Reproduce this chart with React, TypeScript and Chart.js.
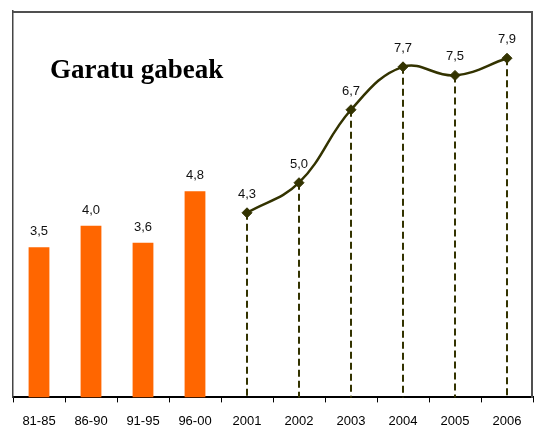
import React, { useEffect, useRef } from "react";
import { Chart, registerables } from "chart.js";
Chart.register(...registerables);

const categories = ["81-85", "86-90", "91-95", "96-00", "2001", "2002", "2003", "2004", "2005", "2006"];
const barValues: (number | null)[] = [3.5, 4.0, 3.6, 4.8, null, null, null, null, null, null];
const lineValues: (number | null)[] = [null, null, null, null, 4.3, 5.0, 6.7, 7.7, 7.5, 7.9];
const titleText = "Garatu gabeak";
const yMin = 0;
const yMax = 9;

const ORANGE = "#FF6600";
const OLIVE = "#333300";

const fmt = (v: number) => v.toFixed(1).replace(".", ",");

const framePlugin = {
  id: "plotFrame",
  afterDraw(chart: any) {
    const ctx = chart.ctx;
    const a = chart.chartArea;
    ctx.save();
    ctx.setLineDash([]);
    ctx.globalAlpha = 1;
    ctx.fillStyle = "#505050";
    ctx.fillRect(Math.floor(a.left), Math.floor(a.top), Math.ceil(a.right - a.left), 2);
    ctx.fillRect(Math.ceil(a.right) - 2, Math.floor(a.top), 2, Math.ceil(a.bottom - a.top));
    ctx.font = "bold 27px 'Liberation Serif', serif";
    ctx.fillStyle = "#000";
    ctx.textBaseline = "alphabetic";
    ctx.textAlign = "left";
    ctx.fillText(titleText, 50, 78);
    ctx.restore();
  },
};

const dropLinePlugin = {
  id: "dropLines",
  beforeDatasetsDraw(chart: any) {
    const { ctx, chartArea } = chart;
    const meta = chart.getDatasetMeta(1);
    ctx.save();
    ctx.strokeStyle = OLIVE;
    ctx.lineWidth = 2;
    ctx.setLineDash([7, 4]);
    meta.data.forEach((pt: any, i: number) => {
      if (lineValues[i] == null) return;
      const x = Math.round(pt.x);
      ctx.beginPath();
      ctx.moveTo(x, pt.y);
      ctx.lineTo(x, chartArea.bottom);
      ctx.stroke();
    });
    ctx.restore();
  },
};

const labelPlugin = {
  id: "valueLabels",
  afterDatasetsDraw(chart: any) {
    const { ctx } = chart;
    ctx.save();
    ctx.font = "13px 'Liberation Sans', Arial, sans-serif";
    ctx.fillStyle = "#111";
    ctx.textAlign = "center";
    ctx.textBaseline = "alphabetic";
    chart.getDatasetMeta(0).data.forEach((bar: any, i: number) => {
      const v = barValues[i];
      if (v == null) return;
      ctx.fillText(fmt(v), bar.x, bar.y - 12);
    });
    chart.getDatasetMeta(1).data.forEach((pt: any, i: number) => {
      const v = lineValues[i];
      if (v == null) return;
      ctx.fillText(fmt(v), pt.x, pt.y - 15);
    });
    ctx.restore();
  },
};

export default function App() {
  const ref = useRef<HTMLCanvasElement>(null);
  useEffect(() => {
    if (!ref.current) return;
    const chart = new Chart(ref.current, {
      type: "bar",
      data: {
        labels: categories,
        datasets: [
          {
            type: "bar",
            data: barValues,
            backgroundColor: ORANGE,
            barPercentage: 0.4,
            categoryPercentage: 1.0,
            order: 2,
          },
          {
            type: "line",
            data: lineValues,
            borderColor: OLIVE,
            borderWidth: 2.5,
            tension: 0.4,
            pointStyle: "rectRot",
            pointRadius: 5,
            pointBackgroundColor: OLIVE,
            pointBorderColor: OLIVE,
            pointBorderWidth: 1,
            order: 1,
          },
        ] as any,
      },
      options: {
        animation: false,
        responsive: false,
        devicePixelRatio: 1,
        layout: { padding: { left: 13, top: 11, right: 1, bottom: -8 } },
        plugins: { legend: { display: false }, tooltip: { enabled: false }, title: { display: false } },
        scales: {
          x: {
            offset: true,
            grid: {
              display: true,
              offset: true,
              drawOnChartArea: false,
              drawTicks: true,
              tickLength: 5,
              color: "#000",
            },
            border: { display: true, color: "#000", width: 2 },
            ticks: {
              color: "#000",
              padding: 11,
              maxRotation: 0,
              autoSkip: false,
              font: { family: "'Liberation Sans', Arial, sans-serif", size: 13 },
            },
          },
          y: {
            min: yMin,
            max: yMax,
            ticks: { display: false },
            grid: { display: false, drawTicks: false },
            border: { display: true, color: "#444", width: 1.5 },
          },
        },
      },
      plugins: [dropLinePlugin, labelPlugin, framePlugin],
    } as any);
    return () => chart.destroy();
  }, []);
  return (
    <div style={{ position: "absolute", left: 0, top: 0, width: 539, height: 432, background: "#fff" }}>
      <canvas ref={ref} width={539} height={432} style={{ display: "block" }} />
    </div>
  );
}
